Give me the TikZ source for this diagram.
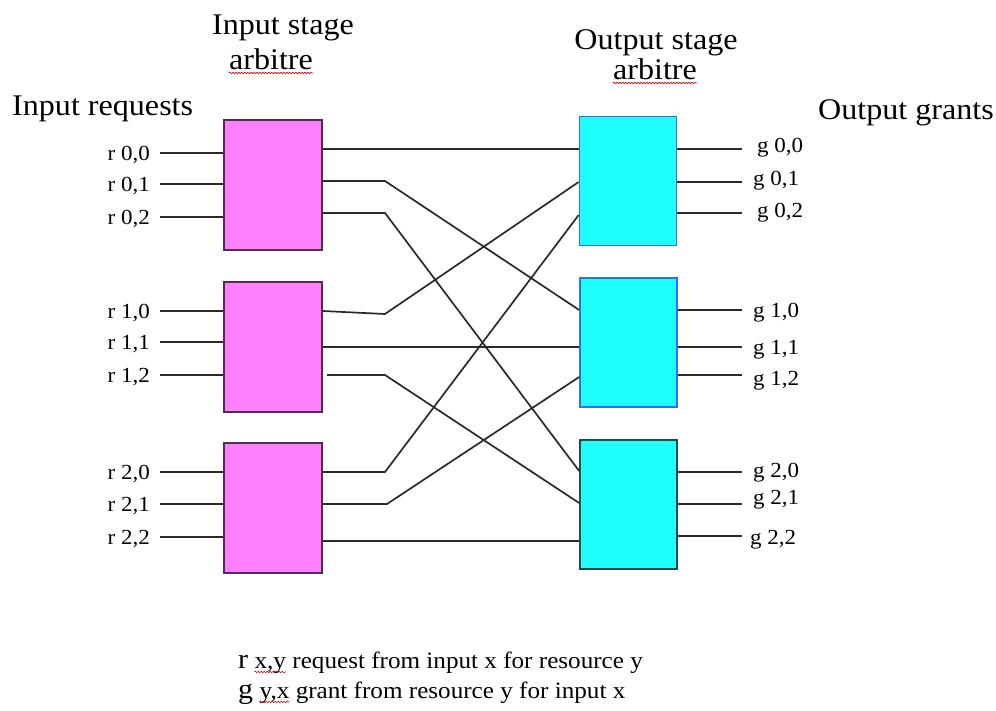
\documentclass[tikz,border=0pt]{standalone}
\usepackage{fontspec}
\setmainfont{Liberation Serif}[FakeStretch=1.07]
\usetikzlibrary{decorations.pathmorphing,calc}
\definecolor{inpink}{HTML}{FF80FF}
\definecolor{inborder}{HTML}{4A304A}
\definecolor{outcyan}{HTML}{1FFFFF}
\definecolor{outblue}{HTML}{3A6AF0}
\definecolor{outdark}{HTML}{1F4A44}
\definecolor{wire}{HTML}{2A2A2A}
\begin{document}
\begin{tikzpicture}[x=1pt,y=-1pt,
 inbox/.style={draw=inborder, fill=inpink, line width=1.9pt, minimum width=98pt, minimum height=130pt, inner sep=0pt},
 outbox/.style={draw=outblue, fill=outcyan, line width=1.7pt, minimum width=97pt, minimum height=129pt, inner sep=0pt},
 wireline/.style={draw=wire, line width=1.7pt},
 title/.style={font=\fontsize{30}{36}\selectfont, inner sep=0pt, anchor=base},
 lbl/.style={font=\fontsize{21.5}{26}\selectfont, inner sep=0pt},
 legbig/.style={font=\fontsize{28}{32}\selectfont, inner sep=0pt, anchor=base west},
 legsmall/.style={font=\fontsize{23.5}{28}\selectfont, inner sep=0pt, anchor=base west},
 spell/.style={draw=red!80!black, line width=0.6pt, decorate, decoration={snake, amplitude=0.7pt, segment length=3pt}}]
\fill[white] (0,0) rectangle (996,711);
\useasboundingbox (0,0) rectangle (996,711);

% titles
\node[title] (t1) at (283,35) {Input stage};
\node[title] (t1b) at (271,70) {arbitre};
\node[title] (t2) at (656,50) {Output stage};
\node[title] (t2b) at (655,80) {arbitre};
\node[title, anchor=base west] (t3) at (12,116) {Input requests};
\node[title, anchor=base west] (t4) at (818,120) {Output grants};
\draw[spell] ([yshift=-3pt]t1b.base west) -- ([yshift=-3pt]t1b.base east);
\draw[spell] ([yshift=-3pt]t2b.base west) -- ([yshift=-3pt]t2b.base east);

% boxes
\node[inbox] (ib0) at (273,185) {};
\node[inbox] (ib1) at (273,347) {};
\node[inbox] (ib2) at (273,508) {};
\node[outbox] (ob0) at (628,181) {};
\node[outbox] (ob1) at (628.5,342.5) {};
\node[outbox, draw=outdark] (ob2) at (628.5,504.5) {};

% input request lines
\foreach \b/\i/\y/\t in {0/0/153/{r 0,0}, 0/1/184/{r 0,1}, 0/2/217/{r 0,2},
                        1/0/311/{r 1,0}, 1/1/342/{r 1,1}, 1/2/375/{r 1,2},
                        2/0/472/{r 2,0}, 2/1/504/{r 2,1}, 2/2/537/{r 2,2}} {
  \coordinate (rin\b\i) at (160,\y);
  \node[lbl, anchor=mid east, yshift=-5pt] (rl\b\i) at (150,\y) {\t};
  \draw[wireline] (rin\b\i) -- (ib\b.west |- rin\b\i);
}

% output grant lines
\foreach \b/\i/\y/\lx/\ly/\t in {0/0/149/757/145/{g 0,0}, 0/1/182/753/178/{g 0,1}, 0/2/213/757/210/{g 0,2},
                                1/0/310/753/310/{g 1,0}, 1/1/347/753/347/{g 1,1}, 1/2/375/753/378/{g 1,2},
                                2/0/472/753/470/{g 2,0}, 2/1/504/753/497/{g 2,1}, 2/2/536/750/537/{g 2,2}} {
  \coordinate (gout\b\i) at (742,\y);
  \node[lbl, anchor=mid west, yshift=-5pt] (gl\b\i) at (\lx,\ly) {\t};
  \draw[wireline] (ob\b.east |- gout\b\i) -- (gout\b\i);
}

% crossbar connections
\draw[wireline] (ib0.east |- 0,149) -- (ob0.west |- 0,149);
\draw[wireline] (ib0.east |- 0,181) -- (385,181) -- (ob1.west |- 0,310);
\draw[wireline] (ib0.east |- 0,213) -- (385,213) -- (ob2.west |- 0,471);
\draw[wireline] (ib1.east |- 0,311) -- (385,314) -- (ob0.west |- 0,182);
\draw[wireline] (ib1.east |- 0,347) -- (ob1.west |- 0,347);
\coordinate (gap12) at (327,375);
\draw[wireline] (gap12) -- (385,375) -- (ob2.west |- 0,503);
\draw[wireline] (ib2.east |- 0,472) -- (385,472) -- (ob0.west |- 0,215);
\draw[wireline] (ib2.east |- 0,504) -- (387,504) -- (ob1.west |- 0,377);
\draw[wireline] (ib2.east |- 0,541) -- (ob2.west |- 0,541);

% legend
\node[legbig] (lr) at (238,668) {r};
\node[legsmall] (lxy) at ([xshift=6pt]lr.base east) {x,y};
\node[legsmall] (lrest) at ([xshift=6pt]lxy.base east) {request from input x for resource y};
\draw[spell] ([yshift=-4pt]lxy.base west) -- ([yshift=-4pt]lxy.base east);
\node[legbig] (lg) at (238,698) {g};
\node[legsmall] (lyx) at ([xshift=6pt]lg.base east) {y,x};
\node[legsmall] (lrest2) at ([xshift=6pt]lyx.base east) {grant from resource y for input x};
\draw[spell] ([yshift=-4pt]lyx.base west) -- ([yshift=-4pt]lyx.base east);
\end{tikzpicture}
\end{document}
